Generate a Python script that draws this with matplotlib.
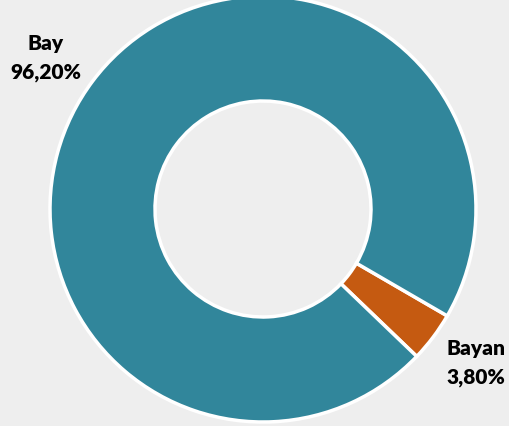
import matplotlib.pyplot as plt

labels = ['Bayan', 'Bay']
values = [3.80, 96.20]
colors = ['#C55A11', '#31869B']

W, H = 509, 427
cx, cy, R = 263, 210, 213   # donut centre and radius in pixels

fig = plt.figure(figsize=(W / 100, H / 100), dpi=100, facecolor='#EEEEEE')
ax = fig.add_axes([0, 0, 1, 1])
ax.set_facecolor('#EEEEEE')

ax.pie(values, colors=colors, startangle=-43.8, counterclock=True, radius=1,
       wedgeprops=dict(width=0.493, edgecolor='white', linewidth=2.5))

ax.set_xlim(-cx / R, (W - cx) / R)
ax.set_ylim(-(H - cy) / R, cy / R)
ax.set_aspect('equal')
ax.axis('off')


def px(x, y):
    return (x - cx) / R, (cy - y) / R


label_pos = {'Bay': (46, 58), 'Bayan': (476, 363)}
for lab, val in zip(labels, values):
    x, y = px(*label_pos[lab])
    txt = lab + '\n' + ('%.2f' % val).replace('.', ',') + '%'
    ax.text(x, y, txt, ha='center', va='center', fontsize=15,
            fontweight='heavy', family='Lato', linespacing=1.55, color='black')

fig.savefig('out.png', dpi=100, facecolor='#EEEEEE')
